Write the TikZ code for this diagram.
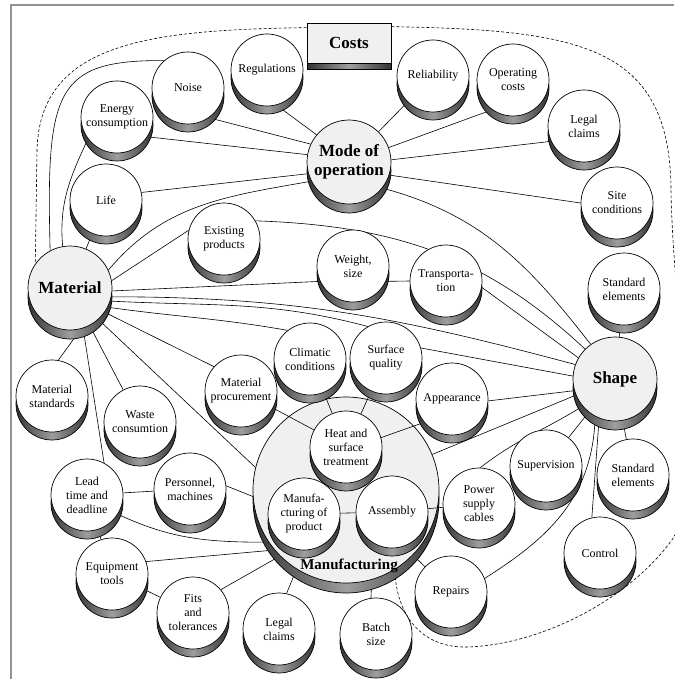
\documentclass[tikz,border=0pt]{standalone}
\usepackage{fontspec}
\setmainfont{Liberation Serif}
\usetikzlibrary{shadows}
\pgfdeclarelayer{paper}
\pgfdeclarelayer{edges}
\pgfdeclarelayer{base}
\pgfdeclarelayer{inner}
\pgfsetlayers{paper,edges,base,inner,main}
\begin{document}
\begin{tikzpicture}[x=1pt,y=-1pt,
  cylside/.style={general shadow={shadow xshift=0pt, shadow yshift=-#1,
      draw=black, line width=0.7pt,
      left color=black!80, right color=black!80, middle color=black!38}},
  disc/.style={circle, draw=black, line width=0.7pt, fill=white,
      minimum size=72pt, inner sep=0pt, align=center,
      font=\fontsize{12}{14}\selectfont, cylside=8pt},
  hub/.style={circle, draw=black, line width=0.7pt, fill=gray!12,
      minimum size=84pt, inner sep=0pt, align=center,
      font=\fontsize{17}{19}\selectfont\bfseries, cylside=9pt},
  bighub/.style={circle, draw=black, line width=0.7pt, fill=gray!12,
      minimum size=186pt, inner sep=0pt, cylside=10pt},
  titlebox/.style={rectangle, draw=black, line width=0.7pt, fill=gray!12,
      minimum width=84pt, minimum height=40pt, inner sep=0pt,
      font=\fontsize{17}{19}\selectfont\bfseries, cylside=6pt},
  link/.style={draw=black, line width=0.6pt},
  boundary/.style={draw=black, line width=0.6pt, dash pattern=on 3pt off 2pt},
  frame/.style={draw=gray!85, line width=2pt},
]
\useasboundingbox (0,0) rectangle (674,679);
\begin{pgfonlayer}{paper}
\fill[white] (0,0) rectangle (674,679);
\end{pgfonlayer}

% outer frame
\draw[frame] (11,679) -- (11,5) -- (674,5);

% ---------------- nodes ----------------
\node[titlebox] (costs) at (349,43) {Costs};

\node[hub] (mo)    at (349,162) {Mode of\\operation};
\node[hub] (mat)   at (70,288)  {Material};
\node[hub] (shape) at (615,379) {Shape};

\begin{pgfonlayer}{base}
\node[bighub] (manuf) at (346,490) {};
\end{pgfonlayer}

\node[disc] (reg)     at (267,70)  {Regulations};
\node[disc] (noise)   at (188,88)  {Noise};
\node[disc] (energy)  at (117,117) {Energy\\consumption};
\node[disc] (life)    at (106,200) {Life};
\node[disc] (exist)   at (224,239) {Existing\\products};
\node[disc] (rel)     at (433,76)  {Reliability};
\node[disc] (opc)     at (513,80)  {Operating\\costs};
\node[disc] (legalA)  at (584,126) {Legal\\claims};
\node[disc] (site)    at (617,203) {Site\\conditions};
\node[disc] (stdA)    at (624,289) {Standard\\elements};
\node[disc] (weight)  at (353,266) {Weight,\\size};
\node[disc] (trans)   at (446,281) {Transporta-\\tion};
\node[disc] (clim)    at (310,359) {Climatic\\conditions};
\node[disc] (surf)    at (386,358) {Surface\\quality};
\node[disc] (matproc) at (241,391) {Material\\procurement};
\node[disc] (app)     at (452,399) {Appearance};
\node[disc] (heat)    at (346,447) {Heat and\\surface\\treatment};
\node[disc] (mfgprod) at (304,514) {Manufa-\\cturing of\\product};
\node[disc] (assy)    at (392,512) {Assembly};
\node[disc] (power)   at (479,504) {Power\\supply\\cables};
\node[disc] (superv)  at (546,466) {Supervision};
\node[disc] (stdB)    at (633,475) {Standard\\elements};
\node[disc] (control) at (600,553) {Control};
\node[disc] (repairs) at (451,592) {Repairs};
\node[disc] (batch)   at (376,634) {Batch\\size};
\node[disc] (legalB)  at (279,629) {Legal\\claims};
\node[disc] (fits)    at (193,613) {Fits\\and\\tolerances};
\node[disc] (equip)   at (112,574) {Equipment\\tools};
\node[disc] (lead)    at (87,495)  {Lead\\time and\\deadline};
\node[disc] (pers)    at (190,489) {Personnel,\\machines};
\node[disc] (matstd)  at (52,396)  {Material\\standards};
\node[disc] (waste)   at (140,422) {Waste\\consumtion};

% title of the large disc, set over the inner discs
\node[font=\fontsize{15}{17}\selectfont\bfseries, inner sep=0pt] (manuflabel)
   at (349,566) {Manufacturing};

% ---------------- connectors under everything ----------------
\begin{pgfonlayer}{edges}
% dashed boundary of the cost domain
\draw[boundary] ([yshift=-5pt]costs.north west)
   .. controls (150,30) and (40,42) .. (37,150) -- (mat.145);
\draw[boundary] ([yshift=-4pt]costs.north east)
   .. controls (580,30) and (670,45) .. (671,190)
   .. controls (673,320) and (705,470) .. (674,537)
   .. controls (630,600) and (540,645) .. (467,647)
   .. controls (425,648) and (400,620) .. ([yshift=-10pt]manuf.-58);

% mode of operation
\draw[link] (reg.-75) -- (mo.140);
\draw[link] (noise.-55) -- (mo.155);
\draw[link] (energy.-33) -- (mo.170);
\draw[link] (life.12) -- (mo.196);
\draw[link] (mo) -- (rel);
\draw[link] (mo.20) -- (opc.-125);
\draw[link] (mo.3) -- (legalA.205);
\draw[link] (mo.-18) -- (site.180);
\draw[link] (mat.25) to[out=50,in=190] (mo.207);
\draw[link] (mo.-38) to[out=-15,in=128] (shape.125);

% material
\draw[link] (noise.131) .. controls (55,60) and (46,90) .. (mat.118);
\draw[link] (energy.217) to[out=245,in=95] (mat.100);
\draw[link] (life) -- (mat);
\draw[link] (mat.10) -- (exist.166);
\draw[link] (mat.-4) -- (weight.205);
\draw[link] (mat.-12) to[out=0,in=165] (shape.160);
\draw[link] (mat.-18) to[out=-3,in=165] (surf.120);
\draw[link] (mat.-27) to[out=-8,in=170] (clim.128);
\draw[link] (mat.-35) -- (matproc.138);
\draw[link] (mat.-48) -- (manuf.166);
\draw[link] (mat) -- (waste);
\draw[link] (mat.-72) -- (lead.62);
\draw[link] (mat.-75) -- (matstd.80);

% shape
\draw[link] (exist.30) to[out=-2,in=137] (shape.135);
\draw[link] (stdA) -- (shape);
\draw[link] (weight.-25) -- (trans.180);
\draw[link] (trans.-10) -- (shape.150);
\draw[link] (surf.16) -- (shape.176);
\draw[link] (app.-3) -- (shape.196);
\draw[link] (manuf) -- (shape);
\draw[link] (power.88) to[out=38,in=212] (shape.220);
\draw[link] (superv) -- (shape);
\draw[link] (stdB) -- (shape);
\draw[link] (control.103) -- (shape.-112);
\draw[link] (repairs.22) .. controls (545,540) and (593,500) .. (shape.-118);

% manufacturing
\draw[link] (repairs) -- (manuf);
\draw[link] (batch.98) -- (manuf.-74);
\draw[link] (legalB.78) -- (manuf.-122);
\draw[link] (fits.40) -- (manuf.-135);
\draw[link] (equip.20) -- (manuf.-140);
\draw[link] (equip) -- (fits);
\draw[link] (lead) -- (equip);
\draw[link] (lead) -- (pers);
\draw[link] (lead.-32) to[out=-25,in=180] (manuf.-146);
\draw[link] (pers.5) -- (manuf.-176);
\end{pgfonlayer}

% ---------------- connectors inside the manufacturing disc ----------------
\begin{pgfonlayer}{inner}
\draw[link] (matproc) -- (heat);
\draw[link] (clim) -- (heat);
\draw[link] (surf) -- (heat);
\draw[link] (heat.15) -- (app.-140);
\draw[link] (mfgprod) -- (assy);
\draw[link] (assy) -- (power);
\end{pgfonlayer}
\end{tikzpicture}
\end{document}
